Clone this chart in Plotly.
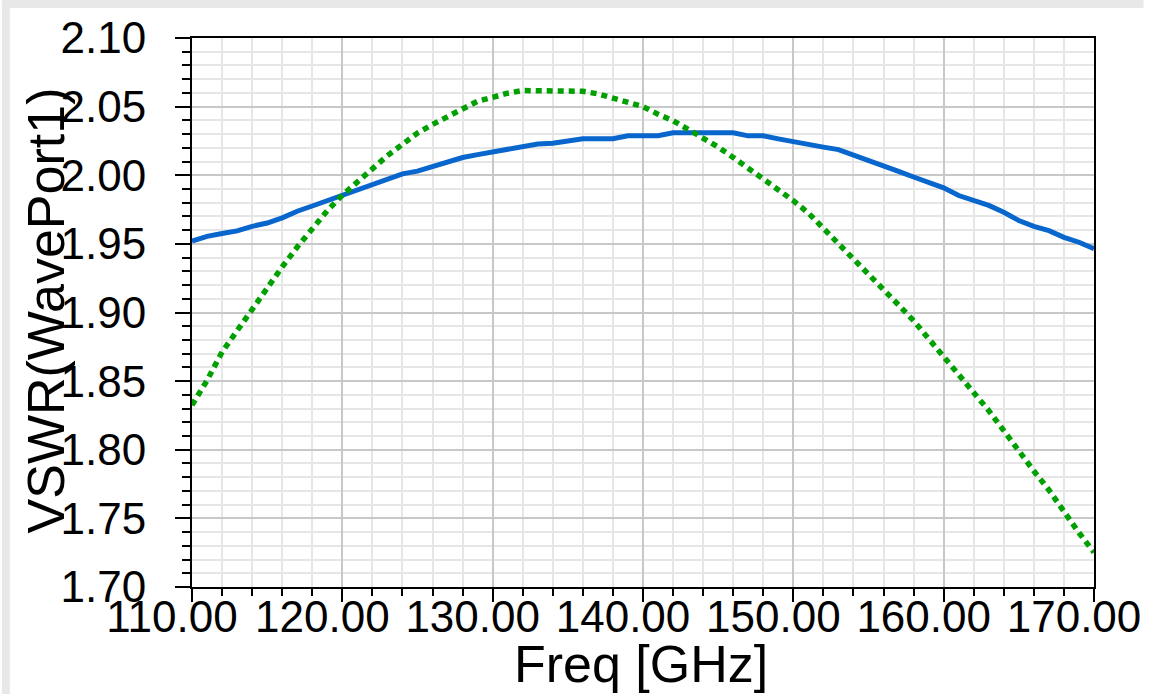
import plotly.graph_objects as go

freq = list(range(110, 171))

vswr_blue = [
    1.9520, 1.9555, 1.9575, 1.9595, 1.9628, 1.9652, 1.9690, 1.9738, 1.9776, 1.9815,
    1.9858, 1.9896, 1.9937, 1.9975, 2.0010, 2.0030, 2.0064, 2.0090, 2.0129, 2.0150,
    2.0170, 2.0190, 2.0210, 2.0228, 2.0233, 2.0250, 2.0266, 2.0266, 2.0266, 2.0287,
    2.0287, 2.0288, 2.0310, 2.0310, 2.0310, 2.0310, 2.0310, 2.0287, 2.0287, 2.0265,
    2.0242, 2.0222, 2.0205, 2.0187, 2.0149, 2.0112, 2.0072, 2.0028, 1.9987, 1.9950,
    1.9908, 1.9852, 1.9816, 1.9780, 1.9730, 1.9670, 1.9628, 1.9596, 1.9548, 1.9512,
    1.9464,
]

vswr_green = [
    1.8325, 1.8505, 1.8712, 1.8870, 1.9028, 1.9185, 1.9332, 1.9477, 1.9612, 1.9742,
    1.9855, 1.9952, 2.0050, 2.0143, 2.0225, 2.0308, 2.0370, 2.0425, 2.0478, 2.0540,
    2.0568, 2.0598, 2.0617, 2.0618, 2.0618, 2.0618, 2.0612, 2.0593, 2.0561, 2.0537,
    2.0500, 2.0445, 2.0397, 2.0335, 2.0274, 2.0205, 2.0130, 2.0052, 1.9978, 1.9905,
    1.9815, 1.9725, 1.9615, 1.9505, 1.9390, 1.9288, 1.9170, 1.9055, 1.8940, 1.8810,
    1.8680, 1.8547, 1.8420, 1.8285, 1.8139, 1.7985, 1.7845, 1.7707, 1.7545, 1.7395,
    1.7252,
]

x_title = "Freq [GHz]"
y_title = "VSWR(WavePort1)"

FONT = "Liberation Sans, Arial, sans-serif"

fig = go.Figure()
fig.add_trace(go.Scatter(x=freq, y=vswr_blue, mode="lines",
                         line=dict(color="#0866CC", width=5), showlegend=False))
fig.add_trace(go.Scatter(x=freq, y=vswr_green, mode="lines",
                         line=dict(color="#00A000", width=5.5, dash="6px,5px"), showlegend=False))

W, H = 1153, 694
L, R, T, B = 192, 50, 38, 107
pw, ph = W - L - R, H - T - B

def px2paper_x(px):
    return (px - L) / pw

def px2paper_y(py):
    return (H - B - py) / ph

fig.update_layout(
    width=W, height=H,
    margin=dict(l=L, r=R, t=T, b=B, pad=0),
    paper_bgcolor="white", plot_bgcolor="white",
    font=dict(family=FONT, color="black"),
    xaxis=dict(
        range=[110, 170], dtick=10, tick0=110, tickformat=".2f",
        showline=True, linecolor="black", linewidth=2, mirror=True,
        ticks="outside", ticklen=13, tickwidth=2, tickcolor="black",
        showgrid=True, gridcolor="#c8c8c8", gridwidth=2,
        zeroline=False,
        tickfont=dict(size=44, family=FONT, color="black"),
        ticklabelshift=-20,
        ticklabelstandoff=-23,
        minor=dict(dtick=2, showgrid=True, gridcolor="#e6e6e6", gridwidth=2,
                   ticks="outside", ticklen=7, tickwidth=2, tickcolor="black"),
    ),
    yaxis=dict(
        range=[1.70, 2.10], dtick=0.05, tick0=1.70, tickformat=".2f",
        showline=True, linecolor="black", linewidth=2, mirror=True,
        ticks="outside", ticklen=15, tickwidth=2, tickcolor="black",
        showgrid=True, gridcolor="#c8c8c8", gridwidth=2,
        zeroline=False,
        tickfont=dict(size=44, family=FONT, color="black"),
        ticklabelstandoff=20,
        minor=dict(dtick=0.01, showgrid=True, gridcolor="#e6e6e6", gridwidth=2,
                   ticks="outside", ticklen=8, tickwidth=2, tickcolor="black"),
    ),
    annotations=[
        dict(text=x_title, xref="paper", yref="paper",
             x=px2paper_x(645), y=px2paper_y(664), xanchor="center", yanchor="middle",
             showarrow=False, font=dict(size=52, family=FONT, color="black")),
        dict(text=y_title, xref="paper", yref="paper", textangle=-90,
             x=px2paper_x(45), y=px2paper_y(310), xanchor="center", yanchor="middle",
             showarrow=False, font=dict(size=52, family=FONT, color="black")),
    ],
    shapes=[
        dict(type="rect", xref="paper", yref="paper", layer="below",
             x0=px2paper_x(0), x1=px2paper_x(8), y0=px2paper_y(H), y1=px2paper_y(0),
             fillcolor="#e8e8e8", line=dict(width=0)),
        dict(type="rect", xref="paper", yref="paper", layer="below",
             x0=px2paper_x(0), x1=px2paper_x(W), y0=px2paper_y(8), y1=px2paper_y(0),
             fillcolor="#e8e8e8", line=dict(width=0)),
    ],
)

fig.write_html(
    "out.html",
    config={"displayModeBar": False},
    post_script="document.body.style.margin='0';document.body.style.overflow='hidden';",
)
